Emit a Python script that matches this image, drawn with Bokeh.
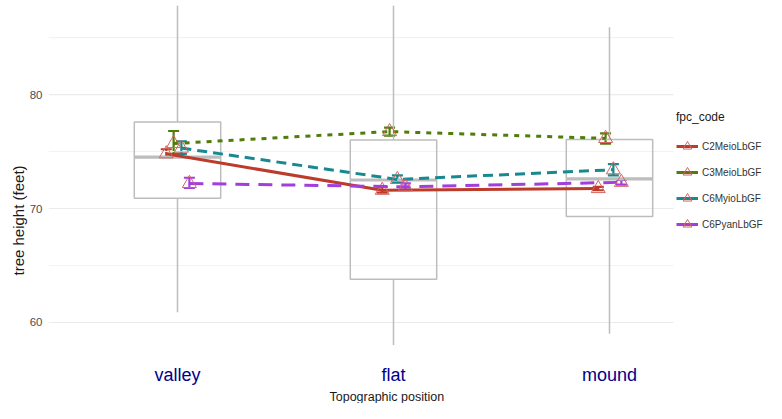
from bokeh.plotting import figure
from bokeh.models import (Legend, LegendItem, Title, FixedTicker, Range1d,
                          Whisker, TeeHead, ColumnDataSource)
from bokeh.embed import file_html
from bokeh.resources import INLINE

# ---------------- data ----------------
categories = ["valley", "flat", "mound"]
cat_pos = [1, 2, 3]

# boxplot (all series pooled)
box_q1 = [70.9, 63.8, 69.3]
box_med = [74.5, 72.5, 72.6]
box_q3 = [77.6, 76.0, 76.05]
box_lo = [60.9, 58.0, 59.0]
box_hi = [87.8, 87.8, 85.9]

series = ["C2MeioLbGF", "C3MeioLbGF", "C6MyioLbGF", "C6PyanLbGF"]
means = {
    "C2MeioLbGF": [74.8, 71.6, 71.75],
    "C3MeioLbGF": [75.7, 76.75, 76.15],
    "C6MyioLbGF": [75.3, 72.55, 73.4],
    "C6PyanLbGF": [72.2, 71.9, 72.3],
}
err_lo = {
    "C2MeioLbGF": [74.5, 71.4, 71.6],
    "C3MeioLbGF": [74.8, 76.4, 75.7],
    "C6MyioLbGF": [74.8, 72.3, 72.9],
    "C6PyanLbGF": [71.8, 71.65, 72.1],
}
err_hi = {
    "C2MeioLbGF": [75.2, 71.9, 71.9],
    "C3MeioLbGF": [76.8, 77.1, 76.6],
    "C6MyioLbGF": [75.9, 72.9, 73.9],
    "C6PyanLbGF": [72.7, 72.2, 72.5],
}

y_ticks = [60, 70, 80]
y_minor = [65, 75, 85]

# ---------------- styles ----------------
colors = {
    "C2MeioLbGF": "#BD3B2A",
    "C3MeioLbGF": "#4E7D0A",
    "C6MyioLbGF": "#17898F",
    "C6PyanLbGF": "#A23EDC",
}
dashes = {
    "C2MeioLbGF": "solid",
    "C3MeioLbGF": "5 6",
    "C6MyioLbGF": "10 6",
    "C6PyanLbGF": "14 9",
}
dodge = {
    "C2MeioLbGF": -0.052,
    "C3MeioLbGF": -0.018,
    "C6MyioLbGF": 0.018,
    "C6PyanLbGF": 0.055,
}
tri_color = "#D6645C"
box_color = "#BDBDBD"
FONT = "Liberation Sans"
nan = float("nan")

# panel extent (x) ; the figure frame extends further right to host the legend
panel_x0, panel_x1 = 0.4028, 3.296

p = figure(width=766, height=403,
           x_range=Range1d(panel_x0, 3.7269), y_range=Range1d(57.98, 88.25),
           output_backend="svg", toolbar_location=None,
           min_border_left=48, min_border_right=0,
           min_border_top=0, min_border_bottom=58)
p.outline_line_color = None
p.background_fill_color = "white"

# grid (drawn only over the panel)
p.xgrid.grid_line_color = None
p.ygrid.grid_line_color = None
p.segment(x0=panel_x0, x1=panel_x1, y0=y_minor, y1=y_minor,
          line_color="#F2F2F2", line_width=1.2)
p.segment(x0=panel_x0, x1=panel_x1, y0=y_ticks, y1=y_ticks,
          line_color="#EBEBEB", line_width=1.2)

# axes
p.yaxis.ticker = FixedTicker(ticks=y_ticks)
p.xaxis.ticker = FixedTicker(ticks=cat_pos)
p.xaxis.major_label_overrides = {pos: c for pos, c in zip(cat_pos, categories)}
for ax in (p.xaxis, p.yaxis):
    ax.axis_line_color = None
    ax.major_tick_line_color = None
    ax.minor_tick_line_color = None
    ax.major_tick_out = 0
    ax.major_tick_in = 0
    ax.minor_tick_out = 0
    ax.minor_tick_in = 0
    ax.major_label_text_font = FONT
p.xaxis.major_label_text_font_size = "18px"
p.xaxis.major_label_text_color = "#00008B"
p.xaxis.major_label_standoff = 19
p.yaxis.major_label_text_font_size = "11.5px"
p.yaxis.major_label_text_color = "#4D4D4D"
p.yaxis.major_label_standoff = 6

# boxplot
half_w = 0.2
p.segment(x0=cat_pos, y0=box_q3, x1=cat_pos, y1=box_hi, line_color=box_color, line_width=1.5)
p.segment(x0=cat_pos, y0=box_q1, x1=cat_pos, y1=box_lo, line_color=box_color, line_width=1.5)
p.vbar(x=cat_pos, width=2 * half_w, bottom=box_q1, top=box_q3,
       fill_color=None, line_color=box_color, line_width=1.5)
p.segment(x0=[x - half_w for x in cat_pos], y0=box_med,
          x1=[x + half_w for x in cat_pos], y1=box_med,
          line_color=box_color, line_width=3.2)

# series
items = []
for s in series:
    xs = [x + dodge[s] for x in cat_pos]
    p.line(xs, means[s], line_color=colors[s], line_width=3, line_dash=dashes[s])
    src = ColumnDataSource(dict(x=xs, lo=err_lo[s], hi=err_hi[s]))
    w = Whisker(base="x", lower="lo", upper="hi", source=src, dimension="height",
                line_color=colors[s], line_width=2.2,
                upper_head=TeeHead(size=11, line_color=colors[s], line_width=2.2),
                lower_head=TeeHead(size=11, line_color=colors[s], line_width=2.2))
    p.add_layout(w)
    tri = p.scatter(xs, means[s], marker="triangle", size=14, fill_color=None,
                    line_color=tri_color, line_width=1)
    # legend key line (solid, not drawn in the plot area)
    lr = p.line([nan], [nan], line_color=colors[s], line_width=3)
    items.append(LegendItem(label=s, renderers=[lr, tri], index=0))

legend = Legend(items=items, location=(628, 108), title="fpc_code",
                title_text_font=FONT, title_text_font_size="12px",
                title_text_font_style="normal", title_text_color="#1A1A1A",
                title_standoff=9,
                label_text_font=FONT, label_text_font_size="10px",
                label_text_color="#333333",
                glyph_width=22, glyph_height=26, label_height=26,
                label_standoff=4, spacing=0, padding=0, margin=0,
                border_line_color=None, background_fill_alpha=0)
p.add_layout(legend)

# axis titles
p.add_layout(Title(text="tree height (feet)", align="left", offset=70,
                   text_font=FONT, text_font_size="15px", text_font_style="normal",
                   text_color="#1A1A1A", standoff=0), "left")
p.add_layout(Title(text="Topographic position", align="left", offset=281,
                   text_font=FONT, text_font_size="12.5px", text_font_style="normal",
                   text_color="#1A1A1A", standoff=0), "below")

open("out.html", "w").write(file_html(p, INLINE))
